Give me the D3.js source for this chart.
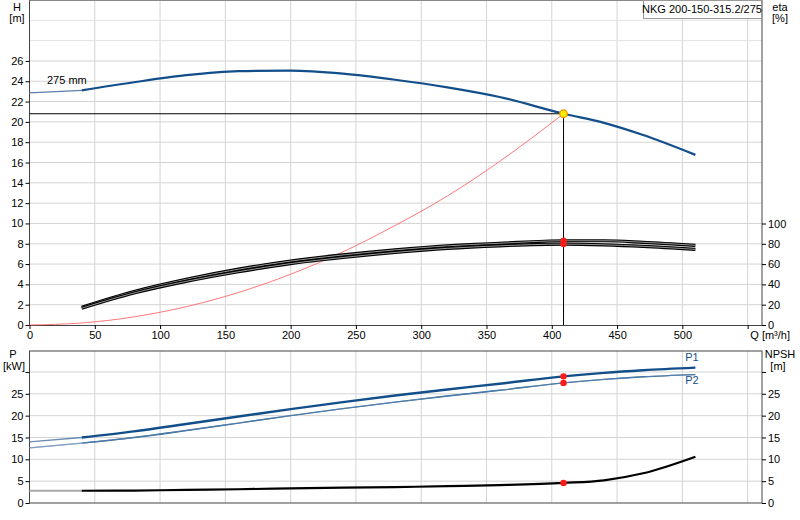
<!DOCTYPE html>
<html><head><meta charset="utf-8">
<script src="https://cdn.jsdelivr.net/npm/d3@7"></script>
<style>body{margin:0;background:#fff}svg{font-family:"Liberation Sans",Arial,sans-serif;font-size:11px}</style>
</head><body><svg id="chart" width="800" height="520"></svg>
<script>
const qPts = [0, 40, 80, 120, 160, 200, 240, 280, 320, 360, 409, 440, 470, 510];
const head = [22.85, 23.1, 23.9, 24.6, 25.0, 25.05, 24.75, 24.15, 23.4, 22.45, 20.8, 19.9, 18.7, 16.75];
const systemQ = [0, 40, 80, 120, 160, 200, 240, 280, 320, 360, 409];
const systemH = [0, 0.2, 0.8, 1.8, 3.2, 5.0, 7.2, 9.8, 12.7, 16.1, 20.8];
const etaQ = [40, 80, 120, 160, 200, 240, 280, 320, 360, 409, 440, 470, 510];
const etaUpper = [17.5, 33, 45, 55, 63, 69, 74, 78, 80.5, 83, 83, 81.5, 78.5];
const etaLower = [16.5, 31.5, 43, 52.5, 60.5, 66.5, 71.5, 75.5, 78, 79.7, 79, 77.5, 74.5];
const p1 = [14.0, 15.0, 16.4, 18.1, 19.8, 21.5, 23.1, 24.6, 26.0, 27.3, 29.0, 29.8, 30.4, 31.0];
const p2 = [12.6, 13.7, 15.0, 16.6, 18.3, 20.0, 21.6, 23.1, 24.5, 25.8, 27.5, 28.3, 28.9, 29.4];
const npsh = [2.8, 2.8, 2.85, 3.0, 3.15, 3.35, 3.5, 3.65, 3.85, 4.1, 4.6, 5.2, 6.8, 10.6];
const dutyQ = 409, dutyH = 20.8;
const qTicks = d3.range(0, 551, 50);
const qLabels = d3.range(0, 501, 50);
const hTicks = d3.range(0, 27, 2);
const etaTicks = d3.range(0, 101, 20);
const pTicks = d3.range(0, 31, 5);
const pLabels = d3.range(0, 26, 5);

const svg = d3.select('#chart');
const x = d3.scaleLinear().domain([0, 561]).range([29.5, 762]);
const yH = d3.scaleLinear().domain([0, 32]).range([325, 0]);
const yEta = d3.scaleLinear().domain([0, 100]).range([325, 223.5]);
const yP = d3.scaleLinear().domain([0, 34.8]).range([503, 351]);

const grid = '#d4d4d4';
function vGrid(y0, y1) {
    svg.append('g').selectAll('line').data(qTicks.slice(1)).enter().append('line')
        .attr('x1', d => x(d)).attr('x2', d => x(d)).attr('y1', y0).attr('y2', y1)
        .attr('stroke', grid);
}
vGrid(0, 325);
svg.append('g').selectAll('line').data(d3.range(2, 32, 2)).enter().append('line')
    .attr('x1', 29.5).attr('x2', 762).attr('y1', d => yH(d)).attr('y2', d => yH(d))
    .attr('stroke', d => d > 26 ? '#e2e2e2' : grid);
vGrid(351, 503);
svg.append('g').selectAll('line').data(pTicks.slice(1)).enter().append('line')
    .attr('x1', 29.5).attr('x2', 762).attr('y1', d => yP(d)).attr('y2', d => yP(d))
    .attr('stroke', grid);

svg.append('path').attr('d', 'M29.5,0V325.5H762V0').attr('fill', 'none').attr('stroke', '#444');
svg.append('line').attr('x1', 29.5).attr('x2', 762).attr('y1', 0.5).attr('y2', 0.5).attr('stroke', '#888');
svg.append('rect').attr('x', 29.5).attr('y', 351).attr('width', 732.5).attr('height', 152)
    .attr('fill', 'none').attr('stroke', '#444');

const ax = (g) => g.call(s => s.select('.domain').remove()).selectAll('text').attr('font-size', 11)
    .attr('font-family', '"Liberation Sans",Arial,sans-serif').attr('fill', '#000');
const fmt = (labels) => d => labels.includes(d) ? d : '';
svg.append('g').attr('transform', 'translate(0,325)')
    .call(d3.axisBottom(x).tickValues(qTicks).tickFormat(fmt(qLabels)).tickSize(4).tickPadding(2)).call(ax);
svg.append('g').attr('transform', 'translate(29.5,0)')
    .call(d3.axisLeft(yH).tickValues(hTicks).tickSize(4).tickPadding(2)).call(ax);
svg.append('g').attr('transform', 'translate(762,0)')
    .call(d3.axisRight(yEta).tickValues(etaTicks).tickSize(4).tickPadding(2)).call(ax);
svg.append('g').attr('transform', 'translate(29.5,0)')
    .call(d3.axisLeft(yP).tickValues(pTicks).tickFormat(fmt(pLabels)).tickSize(4).tickPadding(2)).call(ax);
svg.append('g').attr('transform', 'translate(762,0)')
    .call(d3.axisRight(yP).tickValues(pTicks).tickFormat(fmt(pLabels)).tickSize(4).tickPadding(2)).call(ax);

const lbl = (t, px, py, anchor) => svg.append('text').text(t).attr('x', px).attr('y', py)
    .attr('text-anchor', anchor || 'middle');
lbl('H', 17, 11); lbl('[m]', 17, 22);
lbl('eta', 780, 11); lbl('[%]', 780, 22);
lbl('Q [m³/h]', 790, 339, 'end');
lbl('P', 13, 358); lbl('[kW]', 14, 370);
lbl('NPSH', 780, 358); lbl('[m]', 778, 370);
lbl('275 mm', 47, 84, 'start');

svg.append('rect').attr('x', 643.5).attr('y', 0.5).attr('width', 118).attr('height', 18)
    .attr('fill', '#fff').attr('stroke', '#999');
lbl('NKG 200-150-315.2/275', 702, 13);

const line = (xs, ys, sy) => d3.line().curve(d3.curveMonotoneX)
    .x((d, i) => x(xs[i])).y(d => sy(d))(ys);
const draw = (xs, ys, sy, col, w) => svg.append('path').attr('d', line(xs, ys, sy))
    .attr('fill', 'none').attr('stroke', col).attr('stroke-width', w);

svg.append('line').attr('x1', 29.5).attr('x2', x(dutyQ)).attr('y1', yH(dutyH)).attr('y2', yH(dutyH)).attr('stroke', '#000');
svg.append('line').attr('x1', x(dutyQ)).attr('x2', x(dutyQ)).attr('y1', yH(dutyH)).attr('y2', 325).attr('stroke', '#000');

draw(systemQ, systemH, yH, '#ff5555', 0.8);
draw(qPts.slice(0, 2), head.slice(0, 2), yH, '#5a7fa8', 1.2);
draw(qPts.slice(1), head.slice(1), yH, '#124f8a', 2.2);
[etaUpper, etaLower].forEach(e => {
    draw(etaQ, e, yEta, '#000', 3.2);
    draw(etaQ, e, yEta, '#bbb', 0.8);
});
draw(qPts.slice(0, 2), p1.slice(0, 2), yP, '#6a8cb4', 1.4);
draw(qPts.slice(1), p1.slice(1), yP, '#124f8a', 2.4);
draw(qPts.slice(0, 2), p2.slice(0, 2), yP, '#6a8cb4', 1.2);
draw(qPts.slice(1), p2.slice(1), yP, '#124f8a', 1.4);
svg.append('path').attr('d', line(qPts, p2, yP)).attr('fill', 'none').attr('stroke', '#9bb5d3').attr('stroke-width', 0.5);
draw(qPts.slice(0, 2), npsh.slice(0, 2), yP, '#aaa', 2);
draw(qPts.slice(1), npsh.slice(1), yP, '#000', 2.2);
lbl('P1', 692, 361).attr('fill', '#124f8a');
lbl('P2', 692, 384).attr('fill', '#124f8a');

const dotAt = (v, sy) => svg.append('circle').attr('cx', x(dutyQ)).attr('cy', sy(v)).attr('r', 3.2).attr('fill', '#ff1a1a');
dotAt(83, yEta); dotAt(79.7, yEta);
dotAt(29.0, yP); dotAt(27.5, yP); dotAt(4.6, yP);
svg.append('circle').attr('cx', x(dutyQ)).attr('cy', yH(dutyH)).attr('r', 3.8)
    .attr('fill', '#ffee00').attr('stroke', '#ff8800').attr('stroke-width', 1.2);
</script></body></html>
